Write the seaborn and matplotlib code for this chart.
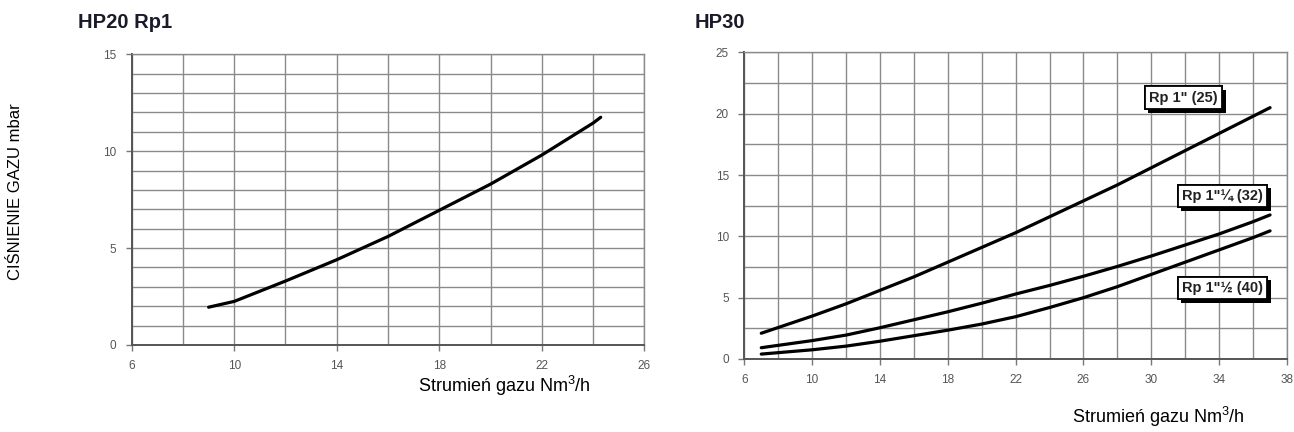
import numpy as np
import pandas as pd
import matplotlib
matplotlib.use("Agg")
import matplotlib.pyplot as plt
import matplotlib.patheffects as pe
import seaborn as sns

# ---- data ----
hp20_x = [9, 10, 12, 14, 16, 18, 20, 22, 24, 24.3]
hp20_y = [1.95, 2.25, 3.3, 4.4, 5.6, 6.95, 8.3, 9.8, 11.45, 11.75]

hp30_x = [7, 10, 12, 14, 16, 18, 20, 22, 24, 26, 28, 30, 32, 34, 36, 37]
rp25_y = [2.1, 3.5, 4.5, 5.6, 6.7, 7.9, 9.1, 10.3, 11.6, 12.9, 14.2, 15.6, 17.0, 18.4, 19.8, 20.5]
rp32_y = [0.92, 1.5, 1.95, 2.55, 3.2, 3.85, 4.55, 5.3, 6.0, 6.75, 7.55, 8.4, 9.3, 10.2, 11.2, 11.75]
rp40_y = [0.4, 0.75, 1.05, 1.45, 1.9, 2.35, 2.85, 3.45, 4.2, 5.0, 5.9, 6.9, 7.9, 8.9, 9.9, 10.45]

hp30_labels = ['Rp 1" (25)', 'Rp 1"¼ (32)', 'Rp 1"½ (40)']
label_pos = [(31.9, 21.3), (34.2, 13.3), (34.2, 5.8)]

left_xticks = [6, 10, 14, 18, 22, 26]
left_yticks = [0, 5, 10, 15]
right_xticks = [6, 10, 14, 18, 22, 26, 30, 34, 38]
right_yticks = [0, 5, 10, 15, 20, 25]

titles = ["HP20 Rp1", "HP30"]
xlabel = "Strumień gazu Nm$^3$/h"
ylabel = "CIŚNIENIE GAZU mbar"

# ---- style ----
sns.set_theme(style="white")
plt.rcParams['font.family'] = ['Liberation Sans', 'DejaVu Sans']
plt.rcParams['mathtext.fontset'] = 'custom'
plt.rcParams['mathtext.rm'] = 'Liberation Sans'

fig = plt.figure(figsize=(12.94, 4.32), dpi=100)
axL = fig.add_axes([0.1018, 0.2014, 0.3961, 0.6729])
axR = fig.add_axes([0.5752, 0.1690, 0.4194, 0.7095])

grid_color = "#8a8a8a"
tick_color = "#555555"


def style_axis(ax, xlim, ylim, xticks, yticks, xminor, yminor):
    ax.set_xlim(*xlim)
    ax.set_ylim(*ylim)
    ax.set_xticks(xticks)
    ax.set_yticks(yticks)
    ax.set_xticks(xminor, minor=True)
    ax.set_yticks(yminor, minor=True)
    ax.grid(True, which="both", color=grid_color, linewidth=1.0)
    ax.set_axisbelow(True)
    for s in ax.spines.values():
        s.set_color(grid_color)
        s.set_linewidth(1.0)
    ax.spines['left'].set_color("#555555")
    ax.spines['bottom'].set_color("#555555")
    ax.spines['left'].set_linewidth(1.4)
    ax.spines['bottom'].set_linewidth(1.4)
    ax.tick_params(axis="both", which="major", length=4, width=1, color="#777777",
                   labelsize=8.5, labelcolor=tick_color, pad=7, bottom=True, left=True)
    ax.tick_params(axis="both", which="minor", length=0)
    ax.set_xlabel("")
    ax.set_ylabel("")


# left panel
df20 = pd.DataFrame({"x": hp20_x, "y": hp20_y})
sns.lineplot(data=df20, x="x", y="y", ax=axL, color="black", linewidth=2.3,
             solid_capstyle="round")
style_axis(axL, (6, 26), (0, 15), left_xticks, left_yticks,
           np.arange(6, 27, 2), np.arange(0, 16, 1))

# right panel
df30 = pd.concat([
    pd.DataFrame({"x": hp30_x, "y": rp25_y, "s": hp30_labels[0]}),
    pd.DataFrame({"x": hp30_x, "y": rp32_y, "s": hp30_labels[1]}),
    pd.DataFrame({"x": hp30_x, "y": rp40_y, "s": hp30_labels[2]}),
])
sns.lineplot(data=df30, x="x", y="y", hue="s", ax=axR,
             palette=["black"] * 3, linewidth=2.3, legend=False,
             solid_capstyle="round")
style_axis(axR, (6, 38), (0, 25), right_xticks, right_yticks,
           np.arange(6, 39, 2), np.arange(0, 25.1, 2.5))

for lab, (lx, ly) in zip(hp30_labels, label_pos):
    t = axR.text(lx, ly, lab, ha="center", va="center", fontsize=10.5,
                 fontweight="bold", color="#222222", zorder=5,
                 bbox=dict(boxstyle="square,pad=0.3", facecolor="white",
                           edgecolor="black", linewidth=1.3))
    t.get_bbox_patch().set_path_effects([
        pe.withSimplePatchShadow(offset=(2.5, -2.5), shadow_rgbFace="black", alpha=1.0),
        pe.Normal()])

# titles
fig.text(0.0603, 0.949, titles[0], ha="left", va="center", fontsize=14.5,
         fontweight="bold", color="#1a1a2a")
fig.text(0.537, 0.949, titles[1], ha="left", va="center", fontsize=14.5,
         fontweight="bold", color="#1a1a2a")

# axis labels
fig.text(0.012, 0.556, ylabel, rotation=90, ha="center", va="center",
         fontsize=12, color="black")
fig.text(0.390, 0.107, xlabel, ha="center", va="center", fontsize=13, color="black")
fig.text(0.895, 0.034, xlabel, ha="center", va="center", fontsize=13, color="black")

fig.savefig("out.png", dpi=100)
